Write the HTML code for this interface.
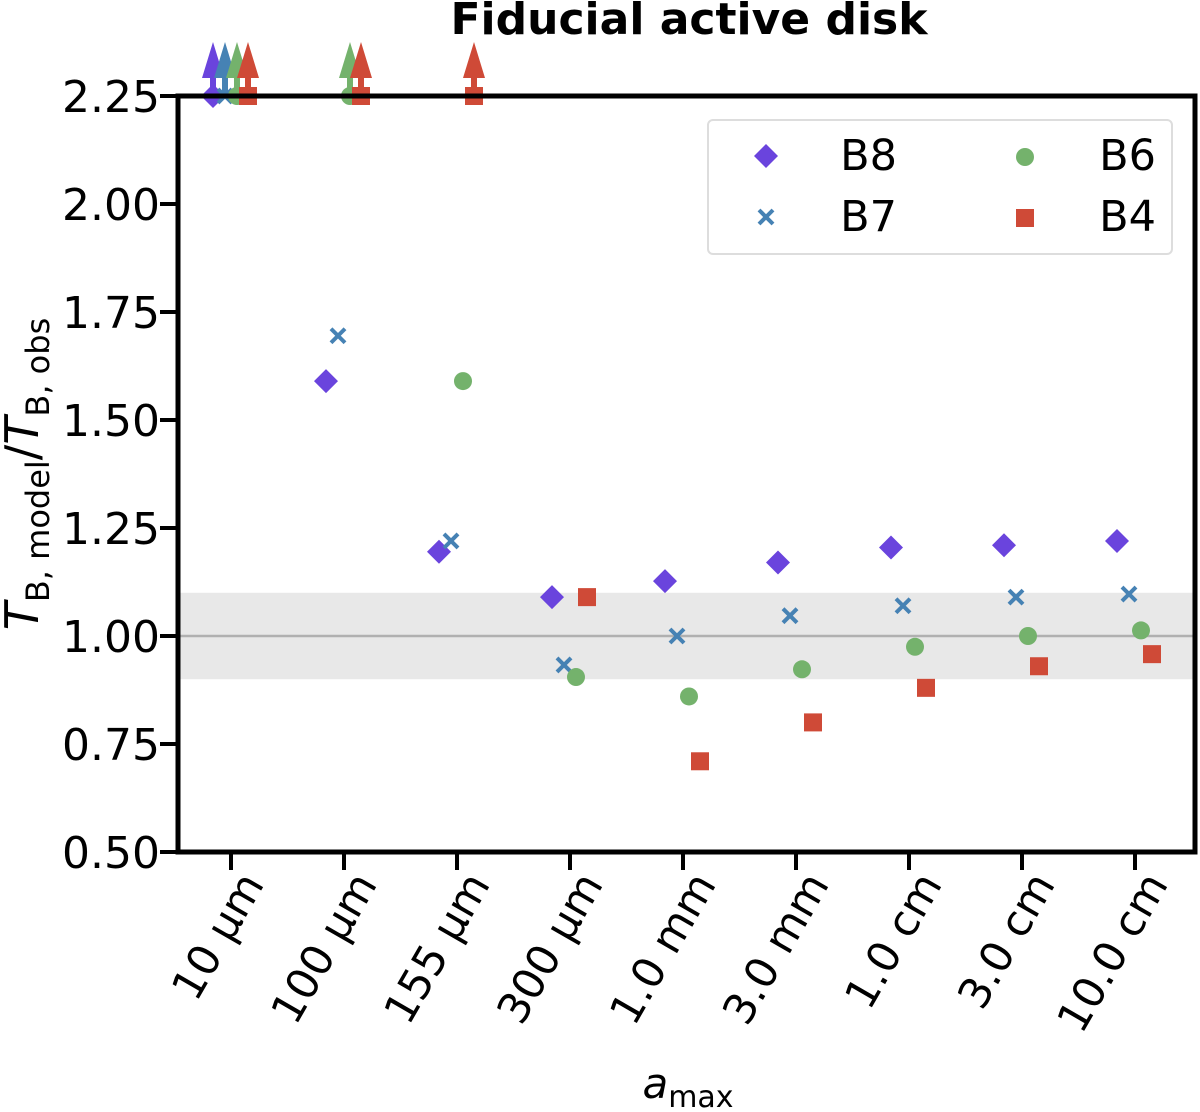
<!DOCTYPE html>
<html><head><meta charset="utf-8"><style>
html,body{margin:0;padding:0;background:#fff;}
svg{display:block;font-family:"DejaVu Sans","Liberation Sans",sans-serif;}
</style></head><body>
<svg id="chart" width="1200" height="1112" viewBox="0 0 1200 1112">
<text x="689" y="34" font-size="44" font-weight="bold" text-anchor="middle">Fiducial active disk</text>
<g id="plot"></g>
<text transform="translate(38,474) rotate(-90)" font-size="46" text-anchor="middle"><tspan font-style="italic">T</tspan><tspan font-size="32" dy="11">B, model</tspan><tspan dy="-11">/</tspan><tspan font-style="italic">T</tspan><tspan font-size="32" dy="11">B, obs</tspan></text>
<text x="688" y="1098" font-size="42" text-anchor="middle"><tspan font-style="italic">a</tspan><tspan font-size="30" dy="9">max</tspan></text>
<g>
<rect x="708" y="120" width="464" height="134" rx="5" fill="#fff" stroke="#ddd" stroke-width="2"/>
<path d="M766,144 L778,156 L766,168 L754,156Z" fill="#6a44dd"/>
<text x="897" y="170" font-size="43" text-anchor="end">B8</text>
<circle cx="1025" cy="157" r="9" fill="#74b26c"/>
<text x="1156" y="170" font-size="43" text-anchor="end">B6</text>
<path d="M759,210 L773,224 M773,210 L759,224" stroke="#4682b4" stroke-width="4"/>
<text x="897" y="231" font-size="43" text-anchor="end">B7</text>
<rect x="1016" y="209" width="18" height="18" fill="#cf4a37"/>
<text x="1156" y="231" font-size="43" text-anchor="end">B4</text>
</g>
</svg>
<script>
const categories=["10 µm","100 µm","155 µm","300 µm","1.0 mm","3.0 mm","1.0 cm","3.0 cm","10.0 cm"];
// values above 2.25 are lower limits (drawn as arrows at the top)
const b8=[3,1.59,1.195,1.09,1.127,1.17,1.205,1.21,1.22];
const b7=[3,1.695,1.22,0.933,1.0,1.047,1.07,1.09,1.097];
const b6=[3,3,1.59,0.905,0.86,0.923,0.975,1.0,1.013];
const b4=[3,3,3,1.09,0.71,0.80,0.88,0.93,0.958];
const yTicks=[0.50,0.75,1.00,1.25,1.50,1.75,2.00,2.25];
const band=[0.9,1.1];
const ref=1.0;

const NS="http://www.w3.org/2000/svg";
const g=document.getElementById('plot');
const L=178,R=1195,T=96,B=852,YMIN=0.5,YMAX=2.25;
const xs=i=>231+i*113;
const ys=v=>B-(Math.min(v,YMAX)-YMIN)/(YMAX-YMIN)*(B-T);
function mk(tag,a){const e=document.createElementNS(NS,tag);for(const k in a)e.setAttribute(k,a[k]);g.appendChild(e);return e;}

const bd=mk('rect',{x:L,y:ys(band[1]),width:R-L,height:ys(band[0])-ys(band[1]),fill:'#e8e8e8'});


const rl=mk('line',{x1:L,x2:R,y1:ys(ref),y2:ys(ref),stroke:'#b0b0b0','stroke-width':2.5});



yTicks.forEach(v=>{
  const t=mk('line',{x1:L-18,x2:L,y1:ys(v),y2:ys(v),stroke:'#000','stroke-width':4});
  
  
  const l=mk('text',{x:L-18,y:ys(v)+16,'font-size':44,'text-anchor':'end'});
  l.textContent=v.toFixed(2);
  
  
});
categories.forEach((c,i)=>{
  const t=mk('line',{x1:xs(i),x2:xs(i),y1:B,y2:B+18,stroke:'#000','stroke-width':4});
  
  
  const l=mk('text',{transform:`translate(${xs(i)+34},884) rotate(-60)`,'font-size':43,'text-anchor':'end'});
  l.textContent=c;
  
  
});

const series=[
 {name:'b8',d:b8,off:-18,col:'#6a44dd',shape:'diamond'},
 {name:'b7',d:b7,off:-6,col:'#4682b4',shape:'x'},
 {name:'b6',d:b6,off:6,col:'#74b26c',shape:'circle'},
 {name:'b4',d:b4,off:17,col:'#cf4a37',shape:'square'}];
series.forEach(s=>{
  s.d.forEach((v,i)=>{
    const x=xs(i)+s.off,y=ys(v);
    if(v>YMAX){
      const a=mk('path',{d:`M${x-3},${y} L${x-3},${y-18} L${x-11},${y-18} L${x},${y-54} L${x+11},${y-18} L${x+3},${y-18} L${x+3},${y}Z`,fill:s.col});
      
      
    }
    let m;
    if(s.shape==='diamond')m=mk('path',{d:`M${x},${y-12} L${x+12},${y} L${x},${y+12} L${x-12},${y}Z`,fill:s.col});
    else if(s.shape==='x')m=mk('path',{d:`M${x-7},${y-7} L${x+7},${y+7} M${x+7},${y-7} L${x-7},${y+7}`,stroke:s.col,'stroke-width':4});
    else if(s.shape==='circle')m=mk('circle',{cx:x,cy:y,r:9,fill:s.col});
    else m=mk('rect',{x:x-9,y:y-9,width:18,height:18,fill:s.col});
    
    
  });
});
const fr=mk('rect',{x:L,y:T,width:R-L,height:B-T,fill:'none',stroke:'#000','stroke-width':5});


</script>
</body></html>
